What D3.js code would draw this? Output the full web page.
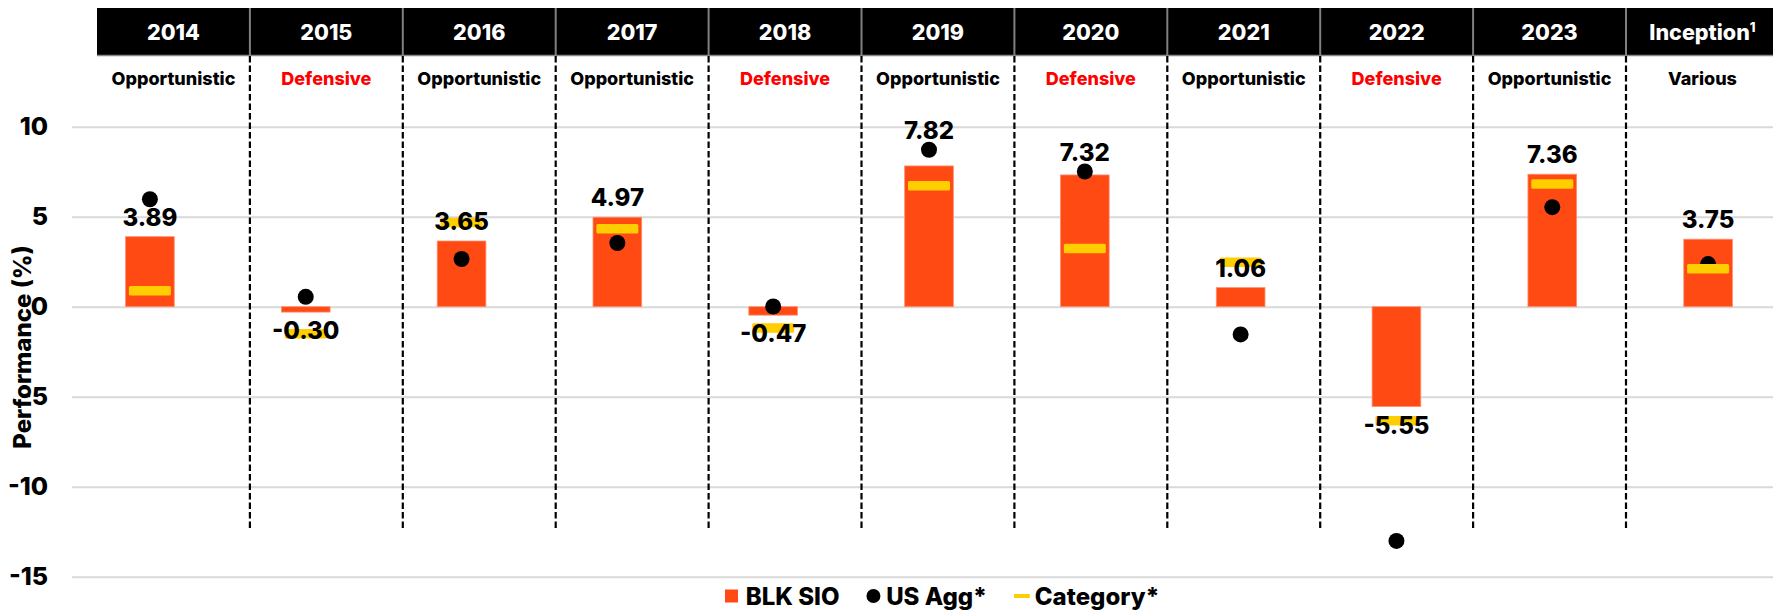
<!DOCTYPE html>
<html>
<head>
<meta charset="utf-8">
<script src="https://cdn.jsdelivr.net/npm/d3@7"></script>
<style>
  body { margin: 0; background: #fff; }
  text { font-family: Inter, "Open Sans", sans-serif; font-weight: 800; }
</style>
</head>
<body>
<div id="chart-area"></div>
<script>
const width = 1773, height = 610;

// data
const years = ["2014","2015","2016","2017","2018","2019","2020","2021","2022","2023","Inception"];
const strategies = ["Opportunistic","Defensive","Opportunistic","Opportunistic","Defensive","Opportunistic",
                    "Defensive","Opportunistic","Defensive","Opportunistic","Various"];
const blkSio   = [3.89, -0.30, 3.65, 4.97, -0.47, 7.82, 7.32, 1.06, -5.55, 7.36, 3.75];
const usAgg    = [5.97, 0.55, 2.65, 3.54, 0.01, 8.72, 7.51, -1.54, -13.01, 5.53, 2.37];
const category = [0.89, -1.50, 4.68, 4.33, -1.18, 6.72, 3.24, 2.47, -6.34, 6.82, 2.11];
const yTicks = [-15, -10, -5, 0, 5, 10];
const legendLabels = ["BLK SIO", "US Agg*", "Category*"];

const colors = {bar: "#ff4a14", dot: "#000000", cat: "#ffce00", red: "#ff0000"};

const rows = years.map((y, i) => ({year: y, strat: strategies[i], sio: blkSio[i], agg: usAgg[i], cat: category[i]}));

var svg = d3.select("#chart-area").append("svg")
    .attr("width", width)
    .attr("height", height);

// scales
const x = d3.scaleBand()
    .domain(years)
    .range([72, 1786])
    .paddingInner(0.6875)
    .paddingOuter(0.34375);

const xHead = d3.scaleBand()
    .domain(years)
    .range([97, 97 + 152.9 * years.length]);

const y = d3.scaleLinear()
    .domain([-15, 10])
    .range([576.7, 126.7]);

// gridlines + tick labels
var yAxis = svg.append("g")
    .attr("transform", "translate(72,0)")
    .call(d3.axisLeft(y)
        .tickValues(yTicks)
        .tickFormat(d => String(d))
        .tickSizeInner(-(width - 72))
        .tickSizeOuter(0)
        .tickPadding(24));
yAxis.select(".domain").remove();
yAxis.selectAll(".tick line").attr("stroke", "#d9d9d9").attr("stroke-width", 2);
yAxis.selectAll(".tick text")
    .attr("fill", "#000")
    .style("font-size", "25px");

// y title
svg.append("text")
    .attr("transform", "translate(31,347) rotate(-90)")
    .attr("text-anchor", "middle")
    .style("font-size", "24px")
    .attr("fill", "#000")
    .text("Performance (%)");

// header band
svg.append("rect")
    .attr("x", 97).attr("y", 8)
    .attr("width", width - 97).attr("height", 47)
    .attr("fill", "#000");
svg.append("line")
    .attr("x1", 97).attr("x2", width)
    .attr("y1", 55.5).attr("y2", 55.5)
    .attr("stroke", "#888").attr("stroke-width", 1.5);

var head = svg.selectAll(".head")
    .data(rows)
    .enter().append("text")
    .attr("class", "head")
    .attr("x", d => xHead(d.year) + xHead.bandwidth() / 2)
    .attr("y", 40)
    .attr("text-anchor", "middle")
    .attr("fill", "#fff")
    .style("font-size", "21.5px");
head.append("tspan").text(d => d.year);
head.filter(d => d.year === "Inception").append("tspan")
    .attr("dy", -8)
    .style("font-size", "13px")
    .text("1");

// header separators and dashed column dividers
const dividers = years.slice(1);
svg.selectAll(".hsep")
    .data(dividers)
    .enter().append("line")
    .attr("x1", d => xHead(d)).attr("x2", d => xHead(d))
    .attr("y1", 8).attr("y2", 55)
    .attr("stroke", "#808080").attr("stroke-width", 2);
svg.selectAll(".dsep")
    .data(dividers)
    .enter().append("line")
    .attr("x1", d => xHead(d)).attr("x2", d => xHead(d))
    .attr("y1", 56).attr("y2", 528)
    .attr("stroke", "#000").attr("stroke-width", 2.2)
    .attr("stroke-dasharray", "6.5,3");

// strategy row
svg.selectAll(".strat")
    .data(rows)
    .enter().append("text")
    .attr("x", d => xHead(d.year) + xHead.bandwidth() / 2)
    .attr("y", 85)
    .attr("text-anchor", "middle")
    .attr("fill", d => d.strat === "Defensive" ? colors.red : "#000")
    .style("font-size", "18px")
    .text(d => d.strat);

// bars
svg.selectAll(".bar")
    .data(rows)
    .enter().append("rect")
    .attr("x", d => x(d.year))
    .attr("width", x.bandwidth())
    .attr("y", d => y(Math.max(0, d.sio)))
    .attr("height", d => Math.abs(y(d.sio) - y(0)))
    .attr("fill", colors.bar)
    .attr("stroke", "#ff9070").attr("stroke-width", 0.8);

// US Agg dots
svg.selectAll(".dot")
    .data(rows)
    .enter().append("circle")
    .attr("cx", d => x(d.year) + x.bandwidth() / 2)
    .attr("cy", d => y(d.agg))
    .attr("r", 8)
    .attr("fill", colors.dot);

// category dashes
svg.selectAll(".cat")
    .data(rows)
    .enter().append("rect")
    .attr("x", d => x(d.year) + x.bandwidth() / 2 - 21)
    .attr("y", d => y(d.cat) - 4.75)
    .attr("width", 42).attr("height", 9.5)
    .attr("rx", 1.5)
    .attr("fill", colors.cat);

// value labels - sit above the bar, lifted over the dot when it sits just above the bar
function labelY(d) {
    if (d.sio < 0) return y(d.sio) + 27;
    var base = y(d.sio) - 11;
    var dotTop = y(d.agg) - 8;
    if (d.agg > d.sio && y(d.sio) - y(d.agg) < 30) base = Math.min(base, dotTop - 3);
    return base;
}
svg.selectAll(".lbl")
    .data(rows)
    .enter().append("text")
    .attr("x", d => x(d.year) + x.bandwidth() / 2)
    .attr("y", labelY)
    .attr("text-anchor", "middle")
    .attr("fill", "#000")
    .style("font-size", "24px")
    .text(d => d.sio.toFixed(2));

// legend
var legend = svg.append("g").attr("transform", "translate(725,596)");
var lx = 0;
legendLabels.forEach(function(lab, i) {
    if (i === 0) {
        legend.append("rect").attr("x", lx).attr("y", -6.5).attr("width", 13).attr("height", 13).attr("fill", colors.bar);
        lx += 20.7;
    } else if (i === 1) {
        legend.append("circle").attr("cx", lx + 7).attr("cy", 0).attr("r", 7).attr("fill", colors.dot);
        lx += 19.7;
    } else {
        legend.append("rect").attr("x", lx).attr("y", -2).attr("width", 15.7).attr("height", 4).attr("fill", colors.cat);
        lx += 20.7;
    }
    var t = legend.append("text")
        .attr("x", lx).attr("y", 8.5)
        .attr("fill", "#000")
        .style("font-size", "24px")
        .text(lab);
    lx += t.node().getComputedTextLength() + 27;
});
</script>
</body>
</html>
